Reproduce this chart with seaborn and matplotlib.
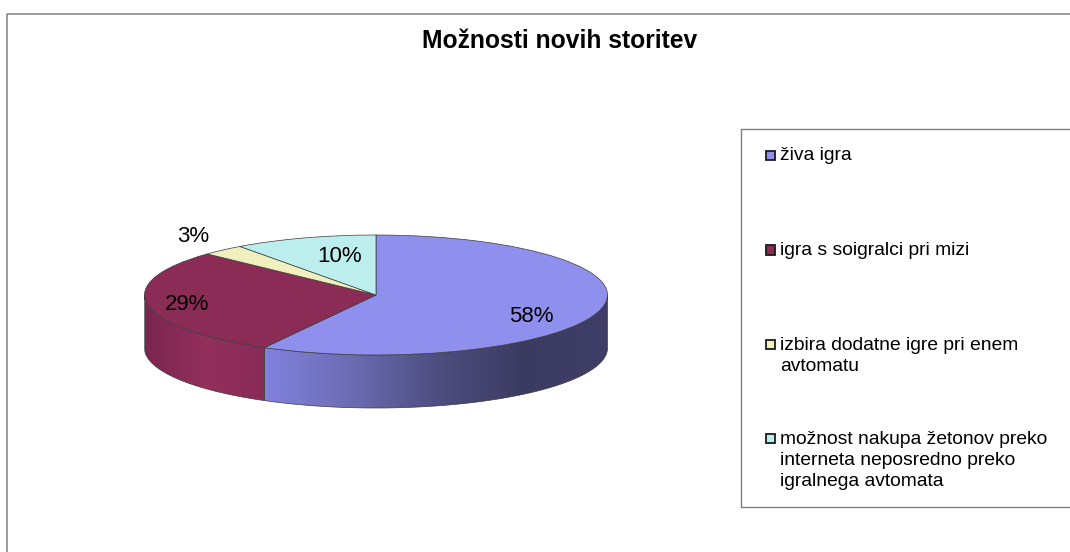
import numpy as np
import matplotlib
matplotlib.use("Agg")
import matplotlib.pyplot as plt
import seaborn as sns
from matplotlib.colors import LinearSegmentedColormap
from matplotlib.patches import Polygon, Rectangle

title = "Možnosti novih storitev"
categories = ["živa igra", "igra s soigralci pri mizi",
              "izbira dodatne igre pri enem\navtomatu",
              "možnost nakupa žetonov preko\ninterneta neposredno preko\nigralnega avtomata"]
values = [58, 29, 3, 10]
colors = ["#8F8FEE", "#8B2C56", "#F0F0BE", "#BDEEEE"]
wall_colors = {0: ["#8282DE", "#6C6CB4", "#4E4E80", "#3B3B62", "#3E3E68"],
               1: ["#7A2650", "#93305C", "#8A2B57"]}

sns.set_theme(style="white")
plt.rcParams["font.family"] = ["Liberation Sans", "DejaVu Sans"]

W, H = 1070, 552
cx, cy, rx, ry, depth = 376, 295, 231.5, 60, 53

fig = plt.figure(figsize=(W / 100, H / 100), dpi=100)
ax = fig.add_axes([0, 0, 1, 1])

wedges, texts, autotexts = ax.pie(values, colors=sns.color_palette(colors), startangle=90, counterclock=False,
                                  autopct="%.0f%%", radius=1,
                                  wedgeprops={"edgecolor": "#3c3c3c", "linewidth": 0.5, "zorder": 3},
                                  textprops={"fontsize": 16, "color": "black", "zorder": 5})

xlim = (-cx / rx, (W - cx) / rx)
ylim = ((cy - H) / ry, cy / ry)
d = depth / ry


def to_data(px, py):
    return (px - cx) / rx, (cy - py) / ry


# side wall of the front half, clipped gradient per slice
for i, w in enumerate(wedges):
    t1, t2 = max(w.theta1, -180), min(w.theta2, 0)
    if t2 <= t1:
        continue
    t = np.radians(np.linspace(t1, t2, 120))
    x, y = np.cos(t), np.sin(t)
    pts = np.r_[np.c_[x, y], np.c_[x[::-1], y[::-1] - d]]
    cmap = LinearSegmentedColormap.from_list("wall%d" % i, wall_colors[i])
    im = ax.imshow(np.linspace(0, 1, 256)[None, :], cmap=cmap, aspect="auto", zorder=2,
                   extent=(x.min(), x.max(), -1 - d, 1))
    poly = Polygon(pts, closed=True, facecolor="none", edgecolor="#3c3c3c", linewidth=0.5, zorder=2.5)
    ax.add_patch(poly)
    im.set_clip_path(poly)

label_pos = [(531, 317), (187, 305), (193, 236), (340, 257)]
for t, (px, py) in zip(autotexts, label_pos):
    t.set_position(to_data(px, py))

ax.set_aspect("auto")
ax.set_xlim(xlim)
ax.set_ylim(ylim)
ax.axis("off")

# everything below lives in pixel coordinates of the picture
ov = fig.add_axes([0, 0, 1, 1], facecolor="none")
ov.set_xlim(0, W)
ov.set_ylim(H, 0)
ov.axis("off")

ov.plot([6.5, 6.5, W], [H, 13.5, 13.5], color="#808080", lw=1.1)
ov.text(559.5, 41, title, ha="center", va="center", fontsize=17.7, fontweight="bold", color="black")

ov.plot([W, 741, 741, W], [129, 129, 507, 507], color="#808080", lw=1.0)
rows = [155, 249.5, 344, 438]
for name, c, y in zip(categories, colors, rows):
    ov.add_patch(Rectangle((765.5, y - 4.5), 9.5, 9.5, facecolor=c, edgecolor="#1a1a1a", lw=1.3))
    ov.text(780.5, y - 7.5, name, ha="left", va="top", fontsize=13.9, linespacing=1.34, color="black")

fig.savefig("out.png", dpi=100)
